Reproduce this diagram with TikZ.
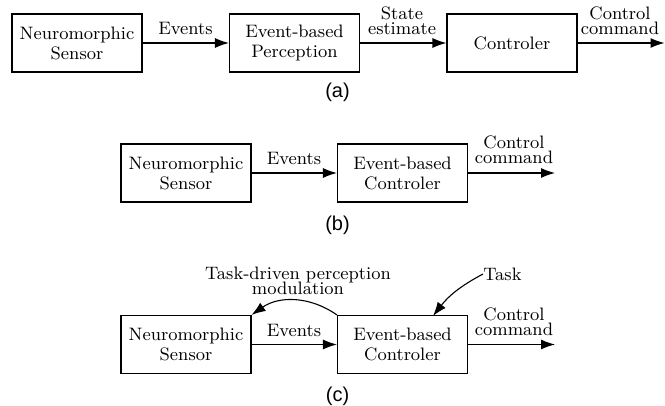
\documentclass[tikz,border=0pt]{standalone}
\usepackage{fontspec}
\newfontfamily\capfont{Liberation Sans}
\usetikzlibrary{arrows.meta}
\begin{document}
\begin{tikzpicture}[x=0.5pt,y=-0.5pt,
  blockbox/.style={draw,line width=0.55pt,minimum width=65pt,minimum height=29pt,inner sep=0pt,align=center,font=\fontsize{9}{10}\selectfont},
  lbl/.style={inner sep=0pt,align=center,font={\fontsize{9}{7.5}\selectfont\lineskiplimit=-10pt}},
  captext/.style={inner sep=0pt,font=\capfont\fontsize{10}{12}\selectfont},
  conn/.style={line width=0.55pt,-{Latex[length=7pt,width=5pt]}}]
\useasboundingbox (0,0) rectangle (665,406);
% (a)
\node[blockbox] (a1) at (77,43) {Neuromorphic\\Sensor};
\node[blockbox] (a2) at (294.5,43) {Event-based\\Perception};
\node[blockbox] (a3) at (512,43) {Controler};
\coordinate (aend) at (664.5,43);
\draw[conn] (a1) -- (a2);
\draw[conn] (a2) -- (a3);
\draw[conn] (a3) -- (aend);
\node[lbl] (la1) at (185.5,28) {Events};
\node[lbl] (la2) at (402,20.5) {State\\estimate};
\node[lbl] (la3) at (620,20.5) {Control\\command};
\node[captext] (capa) at (337.5,92.5) {(a)};
% (b)
\node[blockbox] (b1) at (186,173) {Neuromorphic\\Sensor};
\node[blockbox] (b2) at (402.5,173) {Event-based\\Controler};
\coordinate (bend) at (555,173);
\draw[conn] (b1) -- (b2);
\draw[conn] (b2) -- (bend);
\node[lbl] (lb1) at (294,158.5) {Events};
\node[lbl] (lb2) at (514,150) {Control\\command};
\node[captext] (capb) at (337.5,225.5) {(b)};
% (c)
\node[blockbox] (c1) at (186,344.5) {Neuromorphic\\Sensor};
\node[blockbox] (c2) at (402.5,344.5) {Event-based\\Controler};
\coordinate (cend) at (555,344.5);
\draw[conn] (c1) -- (c2);
\draw[conn] (c2) -- (cend);
\draw[conn] (c2.north west) to[bend right=35] (c1.north east);
\node[lbl] (lc1) at (294,330) {Events};
\node[lbl] (lc2) at (514,321.5) {Control\\command};
\node[lbl] (lc3) at (298,280.5) {Task-driven perception\\modulation};
\node[lbl,anchor=west] (task) at (483,274) {Task};
\coordinate (taskend) at (433,316);
\draw[conn] (task.west) to[bend right=12] (taskend);
\node[captext] (capc) at (337.5,396) {(c)};
\end{tikzpicture}
\end{document}
